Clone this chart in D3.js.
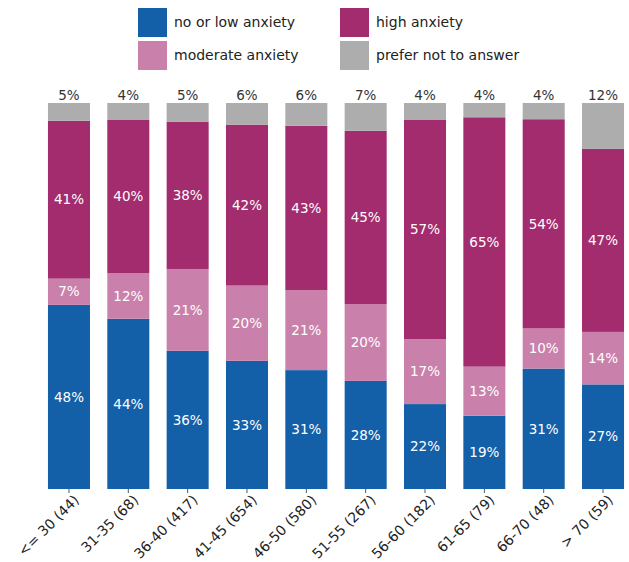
<!DOCTYPE html>
<html>
<head>
<meta charset="utf-8">
<script src="https://cdn.jsdelivr.net/npm/d3@7"></script>
<style>
  body { margin: 0; background: #fff; }
  text { font-family: "DejaVu Sans", sans-serif; }
</style>
</head>
<body>
<div id="chart"></div>
<script>
const categories = ["<= 30 (44)", "31-35 (68)", "36-40 (417)", "41-45 (654)", "46-50 (580)",
    "51-55 (267)", "56-60 (182)", "61-65 (79)", "66-70 (48)", "> 70 (59)"];

// percentages per category
const lowAnx = [47.7, 44.1, 35.8, 33.2, 30.8, 28.0, 22.0, 19.0, 31.2, 27.1];
const modAnx = [6.8, 11.8, 21.2, 19.5, 20.7, 19.9, 16.8, 12.7, 10.4, 13.6];
const highAnx = [40.9, 39.7, 38.1, 41.7, 42.6, 44.9, 56.8, 64.6, 54.2, 47.4];
const noAnswer = [4.6, 4.4, 4.9, 5.6, 5.9, 7.2, 4.4, 3.7, 4.2, 11.9];

const seriesNames = ["no or low anxiety", "moderate anxiety", "high anxiety", "prefer not to answer"];
const colors = ["#135fa8", "#c981ab", "#a22c6e", "#adadad"];

const margin = { top: 103, right: 2, bottom: 73, left: 45 },
    width = 629 - margin.left - margin.right,
    height = 562 - margin.top - margin.bottom;

const svg = d3.select("#chart")
    .append("svg")
    .attr("width", width + margin.left + margin.right)
    .attr("height", height + margin.top + margin.bottom);

const g = svg.append("g")
    .attr("transform", `translate(${margin.left},${margin.top})`);

const table = categories.map((c, i) => ({
    cat: c, low: lowAnx[i], mod: modAnx[i], high: highAnx[i], na: noAnswer[i]
}));
const keys = ["low", "mod", "high", "na"];
const stacked = d3.stack().keys(keys)(table);

const x = d3.scaleBand()
    .domain(categories)
    .range([0, width])
    .paddingInner(0.292)
    .paddingOuter(0.05);

const y = d3.scaleLinear()
    .domain([0, 100])
    .range([height, 0]);

// x axis: ticks only
const xAxis = g.append("g")
    .attr("transform", `translate(0,${height})`)
    .call(d3.axisBottom(x).tickSize(4).tickSizeOuter(0));
xAxis.select(".domain").remove();
xAxis.selectAll(".tick line").attr("stroke", "#555");
xAxis.selectAll(".tick text")
    .attr("font-size", 14)
    .attr("fill", "#222")
    .attr("text-anchor", "end")
    .attr("dy", null)
    .attr("transform", "translate(6,7) rotate(-45)");

// bars
const layers = g.selectAll("g.layer")
    .data(stacked)
    .join("g")
    .attr("class", "layer")
    .attr("fill", (d, i) => colors[i]);

layers.selectAll("rect")
    .data(d => d)
    .join("rect")
    .attr("x", d => x(d.data.cat))
    .attr("y", d => y(d[1]))
    .attr("width", x.bandwidth())
    .attr("height", d => y(d[0]) - y(d[1]));

// labels inside the first three segments
stacked.slice(0, 3).forEach(layer => {
    g.append("g").selectAll("text")
        .data(layer)
        .join("text")
        .attr("x", d => x(d.data.cat) + x.bandwidth() / 2)
        .attr("y", d => (y(d[0]) + y(d[1])) / 2)
        .attr("dy", "0.35em")
        .attr("text-anchor", "middle")
        .attr("font-size", 13.5)
        .attr("fill", "#fff")
        .text(d => Math.round(d[1] - d[0]) + "%");
});

// labels above bars for "prefer not to answer"
g.append("g").selectAll("text")
    .data(stacked[3])
    .join("text")
    .attr("x", d => x(d.data.cat) + x.bandwidth() / 2)
    .attr("y", y(100) - 3)
    .attr("text-anchor", "middle")
    .attr("font-size", 13.5)
    .attr("fill", "#333")
    .text(d => Math.round(d[1] - d[0]) + "%");

// legend
const legend = svg.append("g");
const legendPos = [[138, 8], [138, 41], [340, 8], [340, 41]];
seriesNames.forEach((name, i) => {
    const [lx, ly] = legendPos[i];
    legend.append("rect")
        .attr("x", lx).attr("y", ly)
        .attr("width", 29).attr("height", 29)
        .attr("fill", colors[i]);
    legend.append("text")
        .attr("x", lx + 36).attr("y", ly + 14.5)
        .attr("dy", "0.35em")
        .attr("font-size", 14)
        .attr("fill", "#222")
        .text(name);
});
</script>
</body>
</html>
